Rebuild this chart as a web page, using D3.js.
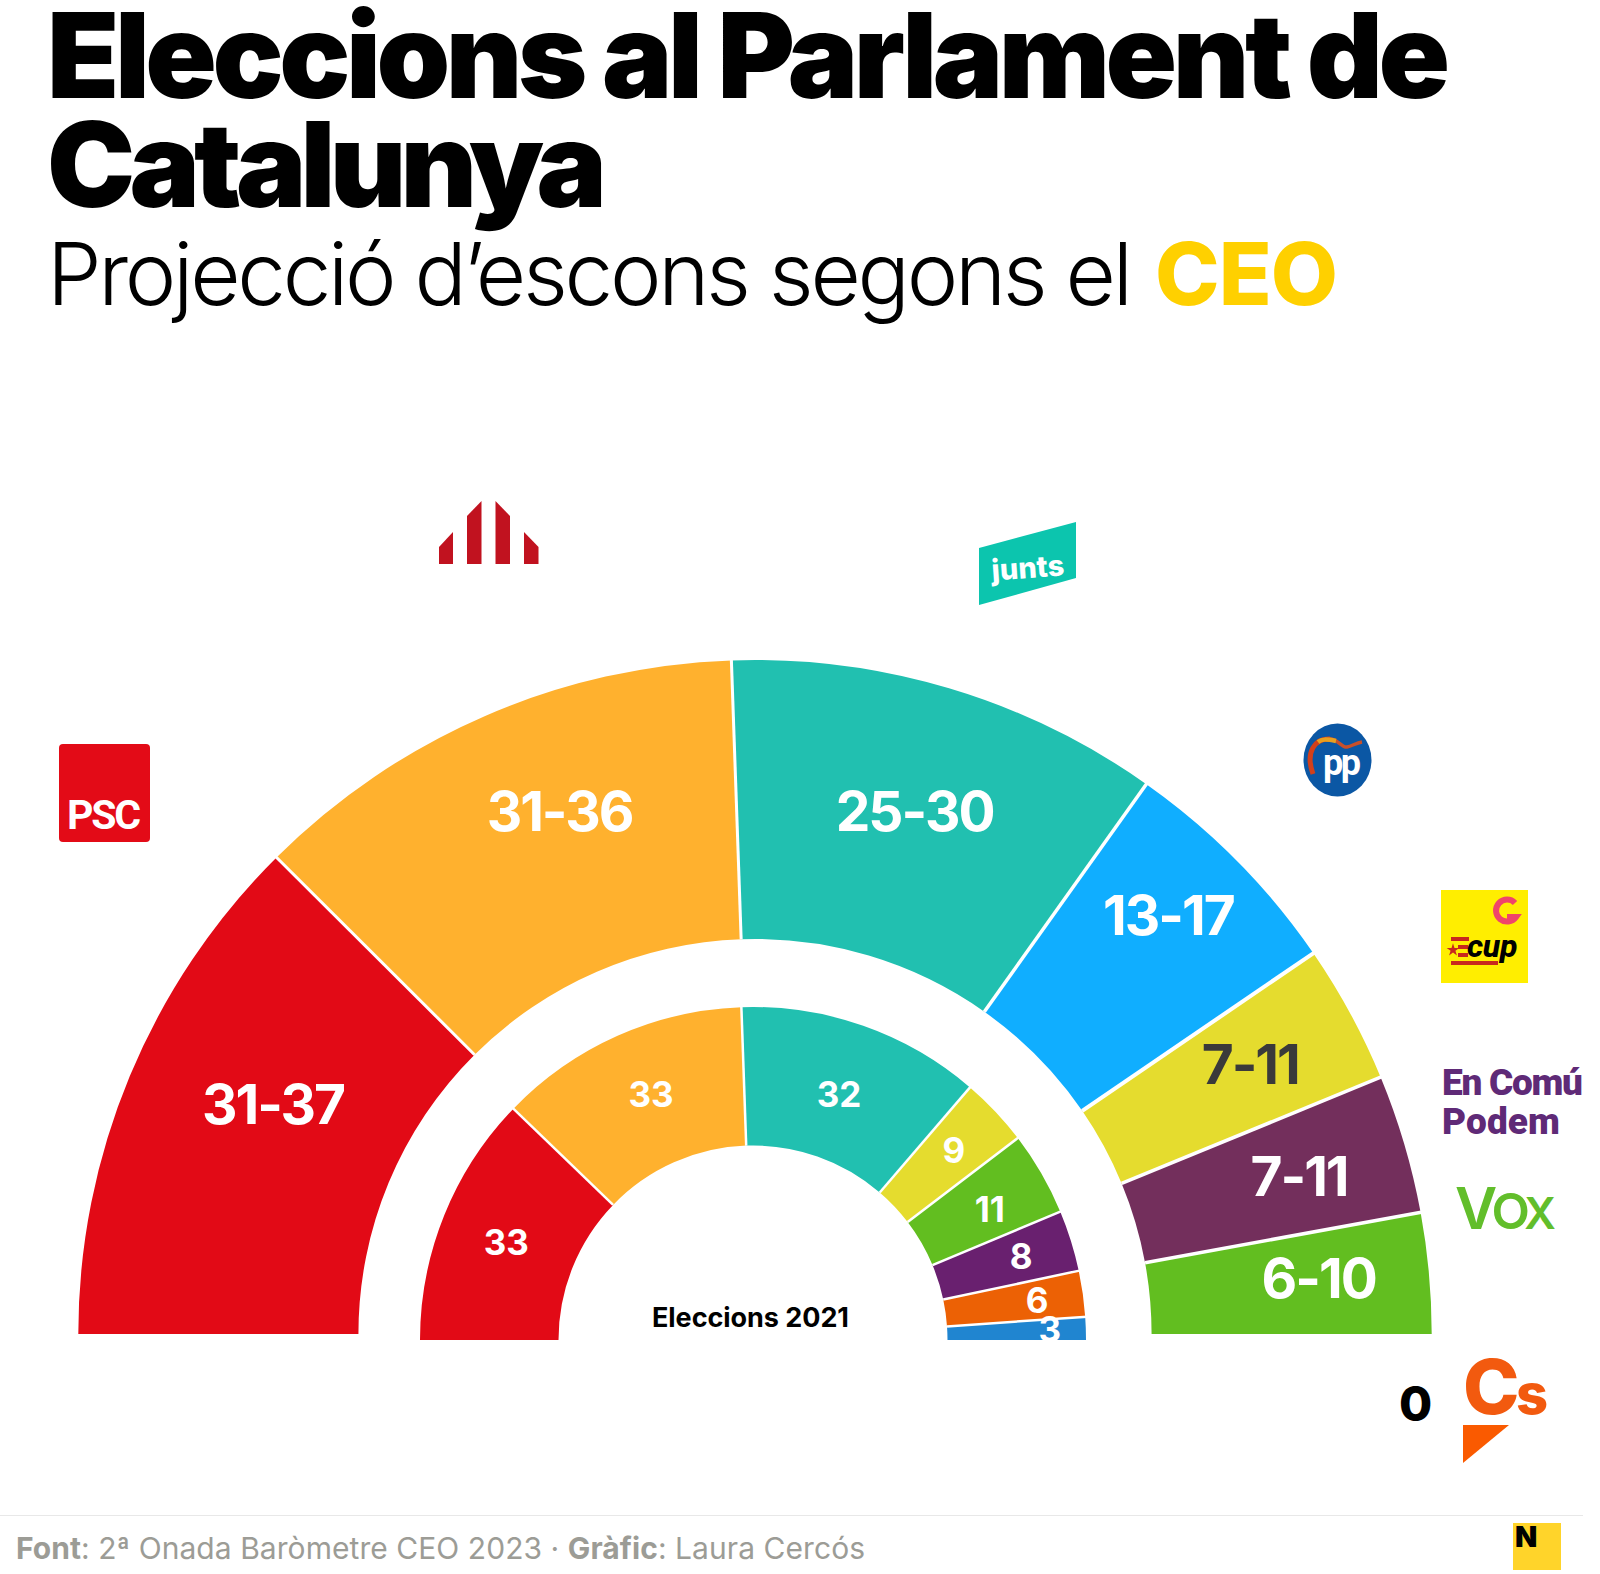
<!DOCTYPE html>
<html><head><meta charset="utf-8">
<script src="https://cdn.jsdelivr.net/npm/d3@7"></script>
<style>html,body{margin:0;padding:0;background:#fff}svg{display:block}text{font-family:Inter,Roboto,sans-serif}</style>
</head><body><div id="c"></div>
<script>
// ---- data ----
const parties2023 = ["PSC","ERC","Junts","PP","CUP","En Comú Podem","Vox"];
const labels2023 = ["31-37","31-36","25-30","13-17","7-11","7-11","6-10"];
const seats2023 = [33.75,32.25,28,15.2,9,9,7.8]; // arc sizes
const colors2023 = ["#E20A16","#FFB12E","#21C0B0","#10AEFF","#E5DC2E","#732F5C","#62BE20"];
const textColors2023 = ["#fff","#fff","#fff","#fff","#3A3A3A","#fff","#fff"];
const parties2021 = ["PSC","ERC","Junts","CUP","Vox","En Comú Podem","Cs","PP"];
const seats2021 = [33,33,32,9,11,8,6,3];
const colors2021 = ["#E20A16","#FFB12E","#21C0B0","#E5DC2E","#62BE20","#69206F","#EC6105","#2085D0"];
// ---- layout ----
const W=1600,H=1574;
const outer={cx:755,cy:1334,r0:395,r1:674,sx:1.004,lr:[534,558,546,587,563,565,566],da:[3,3,0,0,0,0,0],
  nudge:[[0,0],[0,0],[3,0],[-5,-7],[0,-2],[2,2],[0,-5]],fs:55,ls:-2};
const inner={cx:753,cy:1340,r0:194.5,r1:333,sx:1,lr:[266,266,260,276,270,281,287,297],da:[0,1,0,0,0,0,0,0],
  nudge:[[0,2],[2,-1],[0,0],[0,0],[3,4],[0,0],[0,0],[0,0]],fs:35,ls:0};

const svg=d3.select("#c").append("svg").attr("width",W).attr("height",H).attr("viewBox",`0 0 ${W} ${H}`);
function fit(sel,w){const n=sel.node(),len=n.getComputedTextLength(),c=n.textContent.length;
  sel.style("letter-spacing",((w-len)/(c-1))+"px");return sel;}
function txt(x,y,s,o){const t=svg.append("text").attr("x",x).attr("y",y).text(s)
  .attr("font-size",o.size).attr("font-weight",o.w||400).attr("fill",o.fill||"#000");
  if(o.anchor)t.attr("text-anchor",o.anchor); if(o.font)t.style("font-family",o.font);
  if(o.width)fit(t,o.width); return t;}

// titles
txt(47,98,"Eleccions al Parlament de",{size:118,w:900,width:1403});
txt(47,207,"Catalunya",{size:118,w:900,width:560});
txt(47,305,"Projecció d’escons segons el",{size:87,w:300,width:1086});
txt(1155,305,"CEO",{size:87,w:800,fill:"#FFD000",width:183});

// half rings
const pie=d3.pie().sort(null).startAngle(-Math.PI/2).endAngle(Math.PI/2).value(d=>d);
function ring(vals,cols,cfg,sw){
  const g=svg.append("g").attr("transform",`translate(${cfg.cx},${cfg.cy})`);
  const s=g.append("g").attr("transform",`scale(${cfg.sx},1)`);
  const arcs=pie(vals);
  const arc=d3.arc().innerRadius(cfg.r0).outerRadius(cfg.r1);
  s.selectAll("path").data(arcs).join("path").attr("d",arc).attr("fill",(d,i)=>cols[i]);
  s.selectAll("line").data(arcs.slice(1)).join("line")
    .attr("x1",d=>cfg.r0*Math.sin(d.startAngle)).attr("y1",d=>-cfg.r0*Math.cos(d.startAngle))
    .attr("x2",d=>(cfg.r1+2)*Math.sin(d.startAngle)).attr("y2",d=>-(cfg.r1+2)*Math.cos(d.startAngle))
    .attr("stroke","#fff").attr("stroke-width",(d,i)=>sw[i]);
  const rad=(d,i)=>(d.startAngle+d.endAngle)/2+(cfg.da[i]||0)*Math.PI/180;
  return {g,arcs,
    lx:(d,i)=>cfg.lr[i]*Math.sin(rad(d,i))+cfg.nudge[i][0],
    ly:(d,i)=>-cfg.lr[i]*Math.cos(rad(d,i))+cfg.nudge[i][1]};
}
const o=ring(seats2023,colors2023,outer,[3,3,3.5,4,3.5,3.5]);
o.g.selectAll("text").data(o.arcs).join("text")
  .attr("x",o.lx).attr("y",o.ly)
  .attr("dy","0.36em").attr("text-anchor","middle").attr("font-size",outer.fs).attr("font-weight",700)
  .style("letter-spacing",outer.ls+"px")
  .attr("fill",(d,i)=>textColors2023[i]).text((d,i)=>labels2023[i]);
const n=ring(seats2021,colors2021,inner,[2.5,2.5,2.5,2.5,2.5,2.5,2.5]);
n.g.selectAll("text").data(n.arcs).join("text")
  .attr("x",n.lx).attr("y",n.ly)
  .attr("dy","0.36em").attr("text-anchor","middle").attr("font-size",inner.fs).attr("font-weight",700)
  .attr("fill","#fff").text((d,i)=>seats2021[i]);
txt(652,1327,"Eleccions 2021",{size:27,w:700,width:197});
txt(1415.5,1421,"0",{size:48,w:800,anchor:"middle"});

// logos
// PSC
svg.append("rect").attr("x",59).attr("y",744).attr("width",91).attr("height",98).attr("rx",4).attr("fill","#E30B17");
txt(67,829,"PSC",{size:41,w:700,fill:"#fff",width:74,font:"Roboto"});
// ERC
const ercBars=[[[439,564],[439,547],[453,532],[453,564]],[[467,564],[467,516],[481.5,501],[481.5,564]],
 [[495.5,564],[495.5,501],[510,516],[510,564]],[[524,564],[524,532],[538.5,547],[538.5,564]]];
svg.selectAll("polygon.erc").data(ercBars).join("polygon").attr("class","erc")
  .attr("points",d=>d.join(" ")).attr("fill","#C1121F");
// Junts
svg.append("polygon").attr("points","979,548 1076,522 1076,578 979,605").attr("fill","#0CC5AE");
txt(1028,578,"junts",{size:29,w:800,fill:"#fff",anchor:"middle"}).attr("transform","rotate(-4 1028 570)");
// PP
svg.append("ellipse").attr("cx",1337.5).attr("cy",760).attr("rx",34).attr("ry",36.5).attr("fill","#0B57A4");
svg.append("path").attr("d","M1330 739C1338 739 1342 748 1347 747C1352 746 1356 743 1362 742")
  .attr("fill","none").attr("stroke","#C8502A").attr("stroke-width",3.5);
svg.append("path").attr("d","M1313 774C1305 752 1315 738 1330 739").attr("fill","none").attr("stroke","#D2401B").attr("stroke-width",5);
svg.append("path").attr("d","M1318 742C1322 739 1326 739 1336 741").attr("fill","none").attr("stroke","#E8A020").attr("stroke-width",4.5);
txt(1323,775,"pp",{size:36,w:700,fill:"#fff",font:"Roboto",width:38});
// CUP
svg.append("rect").attr("x",1441).attr("y",890).attr("width",87).attr("height",93).attr("fill","#FFEE00");
svg.append("path").attr("d","M1515 903A11 11 0 1 0 1516 917L1507 917").attr("fill","none").attr("stroke","#F0446A").attr("stroke-width",6);
[[937,1451,18],[945,1458,10],[953,1458,10],[961,1451,47]].forEach(([y,x,w])=>svg.append("rect").attr("x",x).attr("y",y).attr("width",w).attr("height",4).attr("fill","#C8281E"));
svg.append("path").attr("d",d3.symbol(d3.symbolStar,50)()).attr("transform","translate(1453,950)").attr("fill","#C8281E");
txt(1467,957,"cup",{size:32,w:800,fill:"#000",font:"Roboto",width:52}).style("font-style","italic");
// En Comú Podem
txt(1442,1095,"En Comú",{size:37,w:900,fill:"#5F2A77",width:141,font:"Roboto"});
txt(1442,1134,"Podem",{size:37,w:900,fill:"#5F2A77",width:118,font:"Roboto"});
// VOX
const vox=svg.append("text").attr("x",1455).attr("y",1229).attr("font-weight",600).attr("fill","#62BE2B");
[["V",58],["O",50],["X",44]].forEach(([s,z])=>vox.append("tspan").attr("font-size",z).text(s));
fit(vox,101);
// Cs
const cs=svg.append("text").attr("x",1463).attr("y",1414).attr("font-weight",800).attr("fill","#F25A0F");
[["C",76],["s",56]].forEach(([s,z])=>cs.append("tspan").attr("font-size",z).text(s));
fit(cs,85);
svg.append("polygon").attr("points","1463,1425 1509,1425 1463,1463").attr("fill","#FA5A00");

// footer
svg.append("line").attr("x1",0).attr("x2",1583).attr("y1",1515.5).attr("y2",1515.5).attr("stroke","#E8E8E8");
const f=svg.append("text").attr("x",16).attr("y",1559).attr("font-size",30).attr("fill","#9C9C96");
[["Font",700],[": 2ª Onada Baròmetre CEO 2023 · ",400],["Gràfic",700],[": Laura Cercós",400]]
 .forEach(([s,w])=>f.append("tspan").attr("font-weight",w).text(s));
fit(f,849);
svg.append("rect").attr("x",1513).attr("y",1523).attr("width",48).attr("height",47).attr("fill","#FFD42A");
txt(1515,1547,"N",{size:29,w:900,fill:"#000"});
</script></body></html>
